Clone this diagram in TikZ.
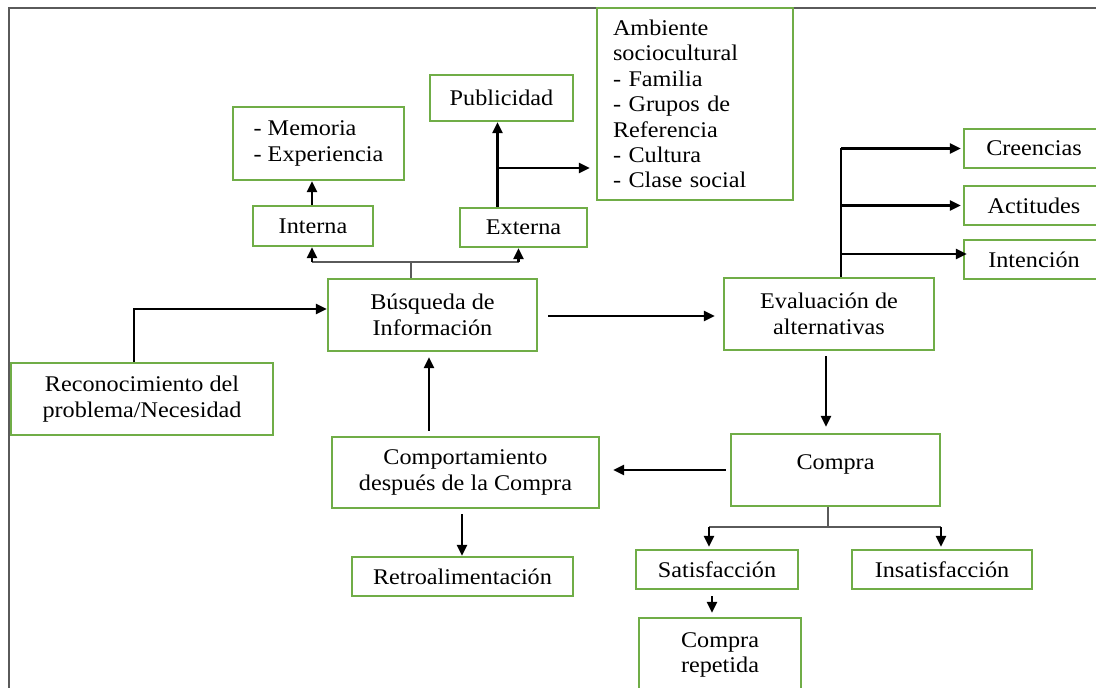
\documentclass[tikz,border=0pt]{standalone}
\usepackage{fontspec}
\setmainfont{Liberation Serif}[FakeStretch=1.08]
\usetikzlibrary{arrows.meta}
\definecolor{boxgreen}{RGB}{112,173,71}
\definecolor{framegray}{RGB}{90,90,90}
\begin{document}
\begin{tikzpicture}[x=1bp,y=-1bp,
  box/.style={draw=boxgreen, line width=2.2bp, fill=white, inner sep=0pt,
    align=center, font=\fontsize{22.5}{25.5}\selectfont},
  arr/.style={line width=2.3bp, -{Triangle[length=11bp,width=10bp]}},
  splitline/.style={draw=framegray, line width=1.4bp},
  trunk/.style={line width=2.3bp}]
\useasboundingbox (0,0) rectangle (1096,688);

% outer frame (top and left edges)
\draw[framegray, line width=2bp] (1096,8) -- (9,8) -- (9,688);

% boxes
\node[box, minimum width=171bp, minimum height=73bp, align=left] (mem) at (318.5,143.5) {- Memoria\\- Experiencia};
\node[box, minimum width=120bp, minimum height=40bp] (int) at (313,226) {Interna};
\node[box, minimum width=143bp, minimum height=46bp] (pub) at (501.5,98) {Publicidad};
\node[box, minimum width=196bp, minimum height=192bp, text width=164bp, align=left] (amb) at (695,104)
  {Ambiente\\sociocultural\\- Familia\\- Grupos de\\Referencia\\- Cultura\\- Clase social};
\node[box, minimum width=127bp, minimum height=39bp] (ext) at (523.5,227.5) {Externa};
\node[box, minimum width=209bp, minimum height=72bp] (bus) at (432.5,315) {Búsqueda de\\Información};
\node[box, minimum width=210bp, minimum height=72bp] (eva) at (829,314) {Evaluación de\\alternativas};
\node[box, minimum width=140bp, minimum height=39bp] (cre) at (1034,148.5) {Creencias};
\node[box, minimum width=140bp, minimum height=39bp] (act) at (1034,205.5) {Actitudes};
\node[box, minimum width=140bp, minimum height=39bp] (inte) at (1034,259.5) {Intención};
\node[box, minimum width=262bp, minimum height=72bp] (rec) at (142,399) {Reconocimiento del\\problema/Necesidad};
\node[box, minimum width=267bp, minimum height=71bp] (com) at (465.5,472.5) {Comportamiento\\después de la Compra};
\node[box, minimum width=221bp, minimum height=39bp] (ret) at (462.5,576.5) {Retroalimentación};
\node[box, minimum width=209bp, minimum height=72bp, text depth=15bp] (cpa) at (835.5,470) {Compra};
\node[box, minimum width=162bp, minimum height=39bp] (sat) at (717,569.5) {Satisfacción};
\node[box, minimum width=180bp, minimum height=39bp] (ins) at (942,569.5) {Insatisfacción};
\node[box, minimum width=162bp, minimum height=74bp] (rep) at (720,655) {Compra\\repetida};

% search: internal / external sources
\draw[arr] ([xshift=-1bp]int.north) -- ([xshift=-1bp]int.north |- mem.south);
\coordinate (bj) at (411,262);
\draw[splitline] (bj |- bus.north) -- (bj);
\draw[splitline] ([xshift=-1bp]int.south |- bj) -- ([xshift=-5bp]ext.south |- bj);
\draw[arr] ([xshift=-1bp]int.south |- bj) -- ([xshift=-1bp]int.south);
\draw[arr] ([xshift=-5bp]ext.south |- bj) -- ([xshift=-5bp]ext.south);
\draw[arr] ([xshift=-26bp]ext.north) -- ([xshift=-26bp]ext.north |- pub.south);
\coordinate (eb) at (497,168);
\draw[arr, shorten >=6bp] (eb) -- (eb -| amb.west);

% main flow
\draw[arr] ([xshift=-8bp]rec.north) |- ([yshift=6bp]bus.west);
\draw[arr, shorten <=10bp, shorten >=8bp] ([yshift=-1bp]bus.east) -- ([yshift=-1bp]bus.east -| eva.west);
\draw[trunk] ([xshift=12bp]eva.north) -- ([xshift=12bp]eva.north |- cre.west);
\draw[arr, shorten >=2bp] ([xshift=12bp]eva.north |- cre.west) -- (cre.west);
\draw[arr, shorten >=2bp] ([xshift=12bp]eva.north |- act.west) -- (act.west);
\draw[arr, shorten >=-4bp] ([xshift=12bp,yshift=5.5bp]eva.north |- inte.west) -- ([yshift=5.5bp]inte.west);
\draw[arr, shorten <=5bp, shorten >=6bp] ([xshift=-3bp]eva.south) -- ([xshift=-3bp]eva.south |- cpa.north);
\draw[arr, shorten <=4bp, shorten >=13bp] (cpa.west) -- (cpa.west -| com.east);
\draw[arr, shorten <=5bp, shorten >=5bp] ([xshift=-36.5bp]com.north) -- ([xshift=-36.5bp]com.north |- bus.south);
\draw[arr, shorten <=5bp] ([xshift=-3.5bp]com.south) -- ([xshift=-3.5bp]com.south |- ret.north);

% purchase outcomes
\coordinate (cj) at (828,527);
\draw[splitline] (cj |- cpa.south) -- (cj);
\draw[splitline] ([xshift=-8bp]sat.north |- cj) -- ([xshift=-1bp]ins.north |- cj);
\draw[arr, shorten >=2bp] ([xshift=-8bp]sat.north |- cj) -- ([xshift=-8bp]sat.north);
\draw[arr, shorten >=2bp] ([xshift=-1bp]ins.north |- cj) -- ([xshift=-1bp]ins.north);
\draw[arr, shorten <=6bp, shorten >=4bp] ([xshift=-5bp]sat.south) -- ([xshift=-5bp]sat.south |- rep.north);
\end{tikzpicture}
\end{document}
